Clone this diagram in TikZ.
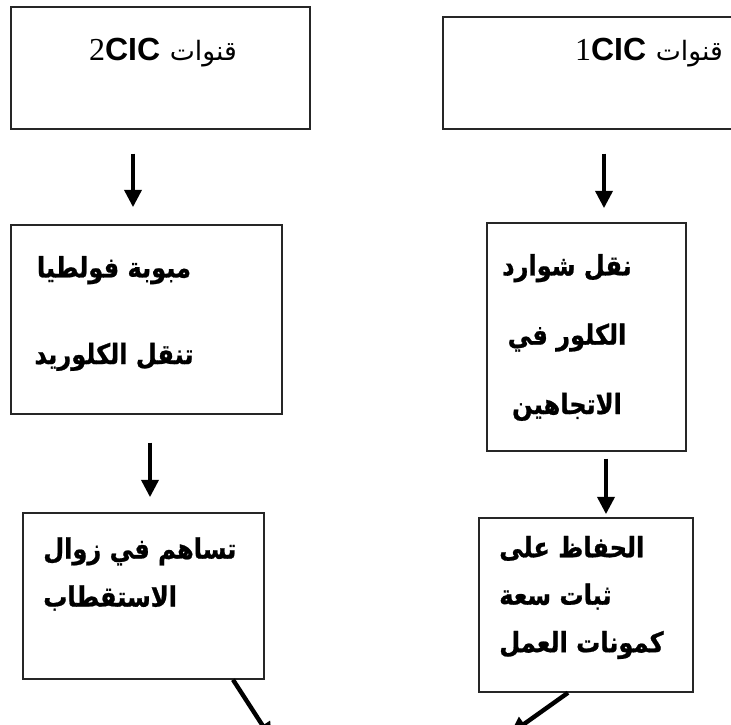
\documentclass[tikz,border=0pt]{standalone}
\usepackage{fontspec}
\usepackage{tikz}
\usetikzlibrary{arrows.meta, positioning, fit, calc}
\TeXXeTstate=1
\newfontfamily\arabicfont[Script=Arabic]{DejaVu Sans}
\newfontfamily\arabicbf[Script=Arabic, FakeStretch=0.86, FakeBold=0.8]{DejaVu Sans Bold}
\newfontfamily\latinsans{Liberation Sans}
\newfontfamily\latinserif{Liberation Serif}
\tikzset{%
	box/.style={draw=black!85, line width=1.1pt, rectangle, inner sep=0mm},
	ttl/.style={inner sep=0mm, font=\fontsize{24}{28}\selectfont},
	txt/.style={inner sep=0mm, font=\arabicbf\fontsize{21}{#1}\selectfont},
	txt/.default=36pt,
	flow/.style={-{Triangle[length=13pt, width=12.5pt]}, line width=3.3pt}
}

\begin{document}
\begin{tikzpicture}[x=0.75pt, y=-0.75pt]
	\useasboundingbox (0,0) rectangle (731,724);
	\clip (0,0) rectangle (731,724);

	% boxes
	\node[box, fit={(11,7) (310,129)}] (ch2) {};
	\node[box, fit={(443,17) (745,129)}] (ch1) {};
	\node[box, fit={(11,225) (282,414)}] (ml) {};
	\node[box, fit={(487,223) (686,451)}] (mr) {};
	\node[box, fit={(23,513) (264,679)}] (bl) {};
	\node[box, fit={(479,518) (693,692)}] (br) {};
	\coordinate (blout) at (272,740);
	\coordinate (brout) at (510,734);

	% texts
	\node[ttl] (ch2t) at (163,53) {\beginR{\arabicfont\fontsize{20}{24}\selectfont قنوات} \beginL{\latinserif 2}{\latinsans\bfseries CIC}\endL\endR};
	\node[ttl] (ch1t) at (649,53) {\beginR{\arabicfont\fontsize{20}{24}\selectfont قنوات} \beginL{\latinserif 1}{\latinsans\bfseries CIC}\endL\endR};
	\node[txt=65pt, align=center] (mlt) at (114,313.5) {\beginR مبوبة فولطيا\endR\\\beginR تنقل الكلوريد\endR};
	\node[txt=52pt, align=center] (mrt) at (567,337.5) {\beginR نقل شوارد\endR\\\beginR الكلور في\endR\\\beginR الاتجاهين\endR};
	\node[txt=36pt, align=left, anchor=west] (blt) at (43,574) {\beginR تساهم في زوال\endR\\\beginR الاستقطاب\endR};
	\node[txt=35.6pt, align=left, anchor=west] (brt) at (499,597.5) {\beginR الحفاظ على\endR\\\beginR ثبات سعة\endR\\\beginR كمونات العمل\endR};

	% arrows
	\draw[flow] ($(ch2.south)+(-27.5,24)$) -- ($(ml.north)+(-13.5,-17)$);
	\draw[flow] ($(ch1.south)+(10,24)$) -- ($(mr.north)+(17.5,-14)$);
	\draw[flow] ($(ml.south)+(3.5,28)$) -- ($(bl.north)+(6.5,-15)$);
	\draw[flow] ($(mr.south)+(19.5,7)$) -- ($(br.north)+(20,-3)$);
	\draw[flow] ($(bl.south)+(89.5,0)$) -- (blout);
	\draw[flow] ($(br.south)+(-18,0)$) -- (brout);
\end{tikzpicture}
\end{document}
